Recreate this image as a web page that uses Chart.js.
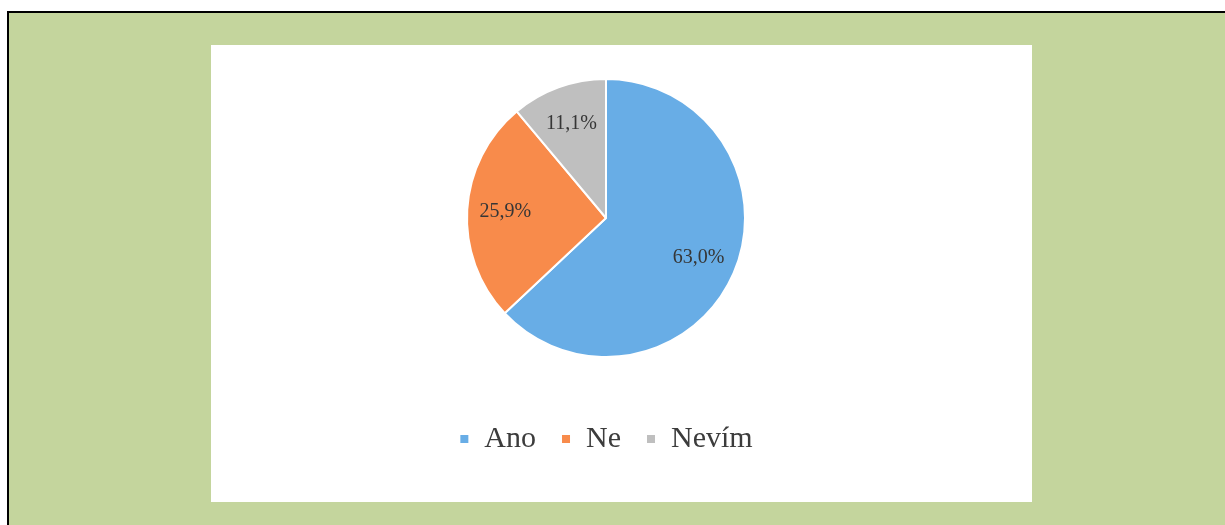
<!DOCTYPE html>
<html lang="cs">

<head>
  <meta charset="UTF-8" />
  <title>Ano / Ne / Nevím</title>
  <script src="https://cdn.jsdelivr.net/npm/chart.js"></script>
  <style>
    * {
      box-sizing: border-box;
      margin: 0;
      padding: 0
    }

    body {
      width: 1225px;
      height: 525px;
      background: #fff;
      overflow: hidden;
      position: relative
    }

    .ramecek {
      position: absolute;
      left: 7px;
      top: 11px;
      width: 1230px;
      height: 530px;
      background: #c4d59d;
      border-left: 2px solid #000;
      border-top: 2px solid #000
    }

    .papir {
      position: absolute;
      left: 211px;
      top: 45px;
      width: 821px;
      height: 457px;
      background: #fff
    }

    .graf {
      position: absolute;
      left: 210px;
      top: 37px;
      width: 792px;
      height: 427px
    }
  </style>
</head>

<body>
  <div class="ramecek"></div>
  <div class="papir"></div>
  <div class="graf"><canvas id="kolac"></canvas></div>

  <script>
    // data (podíly v %)
    const kategorie = ['Ano', 'Ne', 'Nevím'];
    const podily = [63.0, 25.9, 11.1];
    const barvy = ['#68ade6', '#f88b4b', '#bfbfbf'];

    const pismo = "'Liberation Serif', 'Times New Roman', serif";

    // popisky procent uvnitř výsečí
    const popisky = {
      id: 'popisky',
      afterDatasetsDraw(chart) {
        const { ctx } = chart;
        const meta = chart.getDatasetMeta(0);
        const data = chart.data.datasets[0].data;
        const celkem = data.reduce((a, b) => a + b, 0);
        ctx.save();
        ctx.font = '20px ' + pismo;
        ctx.fillStyle = '#363636';
        ctx.textAlign = 'center';
        ctx.textBaseline = 'middle';
        meta.data.forEach((arc, i) => {
          const p = arc.getProps(['x', 'y', 'startAngle', 'endAngle', 'outerRadius'], true);
          const uhel = (p.startAngle + p.endAngle) / 2;
          const r = p.outerRadius * 0.725;
          const txt = (data[i] / celkem * 100).toFixed(1).replace('.', ',') + '%';
          ctx.fillText(txt, p.x + Math.cos(uhel) * r, p.y + Math.sin(uhel) * r);
        });
        ctx.restore();
      }
    };

    new Chart(document.getElementById('kolac'), {
      type: 'pie',
      data: {
        labels: kategorie,
        datasets: [{
          data: podily,
          backgroundColor: barvy,
          borderColor: '#fff',
          borderWidth: 2,
          radius: 139
        }]
      },
      options: {
        responsive: true,
        maintainAspectRatio: false,
        animation: false,
        layout: { padding: 0 },
        plugins: {
          legend: {
            position: 'bottom',
            labels: {
              boxWidth: 10,
              boxHeight: 10,
              padding: 25,
              color: '#3c3c3c',
              font: { family: pismo, size: 30 }
            }
          },
          tooltip: { enabled: false }
        }
      },
      plugins: [popisky]
    });
  </script>
</body>

</html>
